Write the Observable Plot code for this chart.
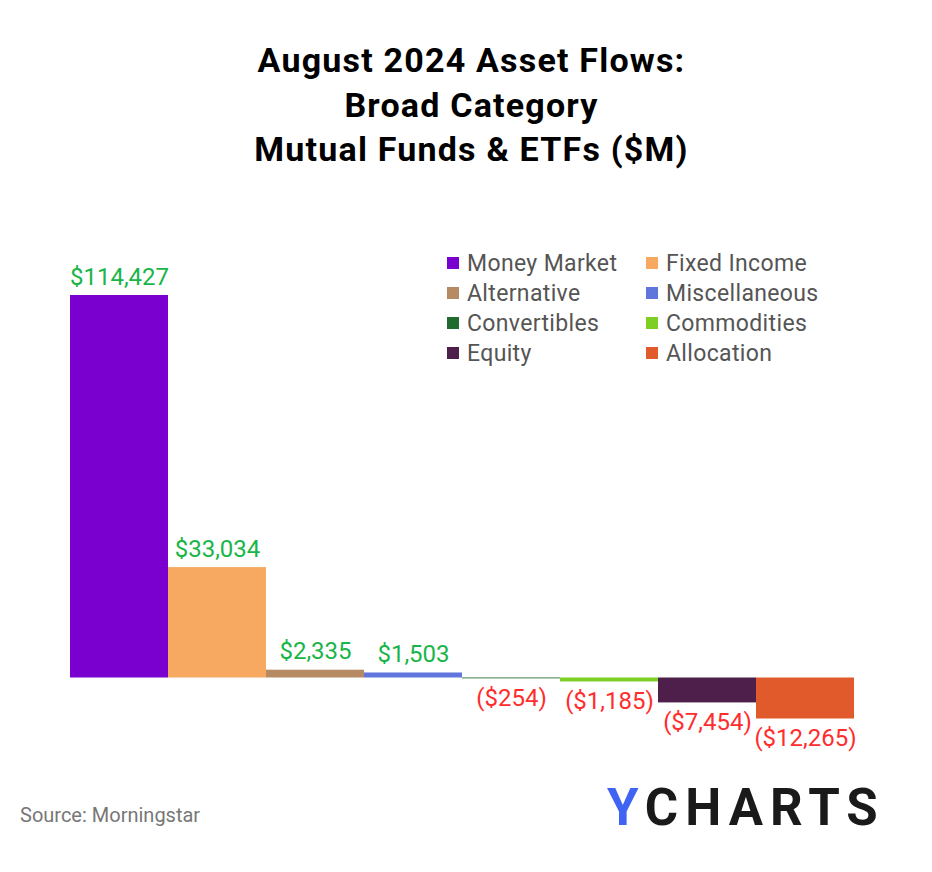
<!DOCTYPE html>
<html>
<head>
<meta charset="utf-8">
<script src="https://cdn.jsdelivr.net/npm/d3@7"></script>
<script src="https://cdn.jsdelivr.net/npm/@observablehq/plot@0.6"></script>
<style>
  html, body { margin: 0; padding: 0; background: #fff; }
  #wrap { position: relative; width: 932px; height: 872px; overflow: hidden; font-family: Roboto, "Noto Sans", sans-serif; }
  #title { position: absolute; left: 0; width: 943px; top: 38px; text-align: center; font-weight: 700; font-size: 34px; letter-spacing: 1.2px; line-height: 44.5px; color: #000; }
  #chart { position: absolute; left: 0; top: 0; }
  #legend { position: absolute; left: 447px; top: 248px; display: grid; grid-template-columns: 199px 200px; row-gap: 0; }
  .li { display: flex; align-items: center; height: 30px; font-size: 23px; letter-spacing: 0.35px; color: #555; white-space: nowrap; }
  .sw { width: 12px; height: 12px; margin-right: 8px; flex: none; }
  #source { position: absolute; left: 20px; top: 803px; font-size: 20px; color: #777; }
  #logo { position: absolute; left: 607px; top: 778px; font-size: 51px; font-weight: 700; letter-spacing: 7px; color: #1a1a1a; }
  #logo span { color: #3f63f2; }
</style>
</head>
<body>
<div id="wrap">
  <div id="chart"></div>
  <div id="title">August 2024 Asset Flows:<br>Broad Category<br>Mutual Funds &amp; ETFs ($M)</div>
  <div id="legend"></div>
  <div id="source">Source: Morningstar</div>
  <div id="logo"><span>Y</span>CHARTS</div>
</div>
<script>
const categories = ["Money Market", "Fixed Income", "Alternative", "Miscellaneous", "Convertibles", "Commodities", "Equity", "Allocation"];
const flows = [114427, 33034, 2335, 1503, -254, -1185, -7454, -12265];
const colors = ["#7a00cf", "#f7a961", "#b68b63", "#6176dc", "#1e6b2d", "#7dcf23", "#4e1f4b", "#e05a2c"];
const legendOrder = ["Money Market", "Fixed Income", "Alternative", "Miscellaneous", "Convertibles", "Commodities", "Equity", "Allocation"];

const data = categories.map((c, i) => ({category: c, value: flows[i]}));
const fmt = d3.format(",");
const label = v => v >= 0 ? "$" + fmt(v) : "($" + fmt(-v) + ")";

const W = 932, H = 872;
const zeroY = 677.5, topY = 295;
const k = (zeroY - topY) / d3.max(flows);
const yDomain = [-30000, 130000];
const marginTop = zeroY - yDomain[1] * k;
const marginBottom = H - (zeroY - yDomain[0] * k);

const chart = Plot.plot({
  width: W,
  height: H,
  marginLeft: 69,
  marginRight: 76.5,
  marginTop,
  marginBottom,
  style: {fontFamily: "Roboto, sans-serif", background: "transparent"},
  x: {domain: categories, padding: 0, axis: null},
  y: {domain: yDomain, axis: null},
  color: {domain: categories, range: colors},
  marks: [
    Plot.barY(data, {x: "category", y: "value", fill: "category"}),
    Plot.text(data.filter(d => d.value >= 0), {x: "category", y: "value", text: d => label(d.value), lineAnchor: "bottom", dy: -11, fill: "#19b548", fontSize: 24}),
    Plot.text(data.filter(d => d.value < 0), {x: "category", y: "value", text: d => label(d.value), lineAnchor: "top", dy: 10, fill: "#ff2d2d", fontSize: 24})
  ]
});
document.getElementById("chart").appendChild(chart);

const leg = document.getElementById("legend");
legendOrder.forEach(name => {
  const i = categories.indexOf(name);
  const el = document.createElement("div");
  el.className = "li";
  el.innerHTML = `<div class="sw" style="background:${colors[i]}"></div><span>${name}</span>`;
  leg.appendChild(el);
});
</script>
</body>
</html>
